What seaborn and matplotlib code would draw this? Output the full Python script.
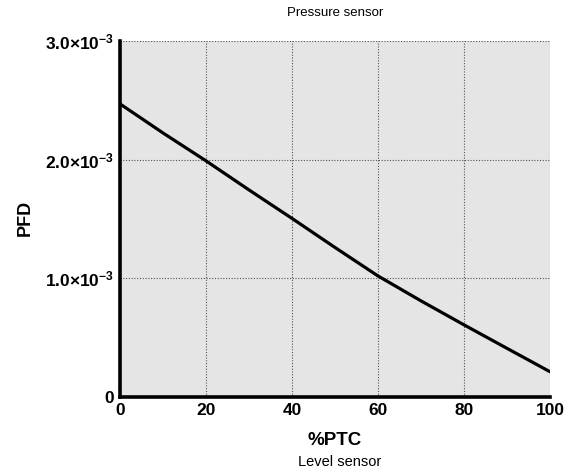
import matplotlib
matplotlib.use("Agg")
import matplotlib.pyplot as plt
import seaborn as sns
import pandas as pd
from matplotlib.ticker import FixedLocator

# PFD of the level/pressure sensor pair versus proof-test coverage
ptc = [0, 10, 20, 30, 40, 50, 60, 70, 80, 90, 100]
pfd = [2.47e-3, 2.225e-3, 1.99e-3, 1.745e-3, 1.505e-3, 1.26e-3,
       1.02e-3, 0.81e-3, 0.608e-3, 0.41e-3, 0.213e-3]

x_ticks = [0, 20, 40, 60, 80, 100]
y_ticks = [0, 1.0e-3, 2.0e-3, 3.0e-3]
y_tick_labels = ["0", r"$1.0{\times}10^{-3}$", r"$2.0{\times}10^{-3}$", r"$3.0{\times}10^{-3}$"]

sns.set_style("white")
plt.rcParams["font.family"] = ["Liberation Sans", "DejaVu Sans"]
plt.rcParams["mathtext.fontset"] = "custom"
plt.rcParams["mathtext.rm"] = "Liberation Sans:bold"
plt.rcParams["mathtext.it"] = "Liberation Sans:bold"
plt.rcParams["mathtext.bf"] = "Liberation Sans:bold"
plt.rcParams["text.color"] = "black"
plt.rcParams["xtick.color"] = "black"
plt.rcParams["ytick.color"] = "black"

df = pd.DataFrame({"PTC": ptc, "PFD": pfd})

fig = plt.figure(figsize=(5.66, 4.73), dpi=100)
ax = fig.add_axes([120 / 566, 76 / 473, 430 / 566, 356 / 473])
ax.set_facecolor("#e5e5e5")

sns.lineplot(data=df, x="PTC", y="PFD", ax=ax, color="black", linewidth=2.3)

ax.set_xlim(0, 100)
ax.set_ylim(0, 3.0e-3)
ax.xaxis.set_major_locator(FixedLocator(x_ticks))
ax.set_yticks(y_ticks)
ax.set_yticklabels(y_tick_labels)

ax.grid(True, color="#555555", linestyle=(0, (1, 1.5)), linewidth=0.8)
ax.set_axisbelow(True)

for side in ["top", "right"]:
    ax.spines[side].set_visible(False)
for side in ["left", "bottom"]:
    ax.spines[side].set_linewidth(2.6)
    ax.spines[side].set_color("black")
    ax.spines[side].set_zorder(5)

ax.tick_params(axis="both", direction="out", length=3, width=2.2, color="black",
               labelcolor="black", labelsize=12.5, pad=1)
for lab in ax.get_xticklabels() + ax.get_yticklabels():
    lab.set_fontweight("bold")

ax.set_xlabel("")
ax.set_ylabel("")

fig.text(25 / 566, 1 - 218 / 473, "PFD", ha="center", va="center", rotation=90,
         fontsize=13, fontweight="bold")
fig.text(335 / 566, 1 - 440 / 473, "%PTC", ha="center", va="center",
         fontsize=13.5, fontweight="bold")
fig.text(340 / 566, 1 - 462 / 473, "Level sensor", ha="center", va="center",
         fontsize=10.5)
fig.text(335 / 566, 1 - 13 / 473, "Pressure sensor", ha="center", va="center",
         fontsize=9.5)

fig.savefig("out.png", dpi=100)
